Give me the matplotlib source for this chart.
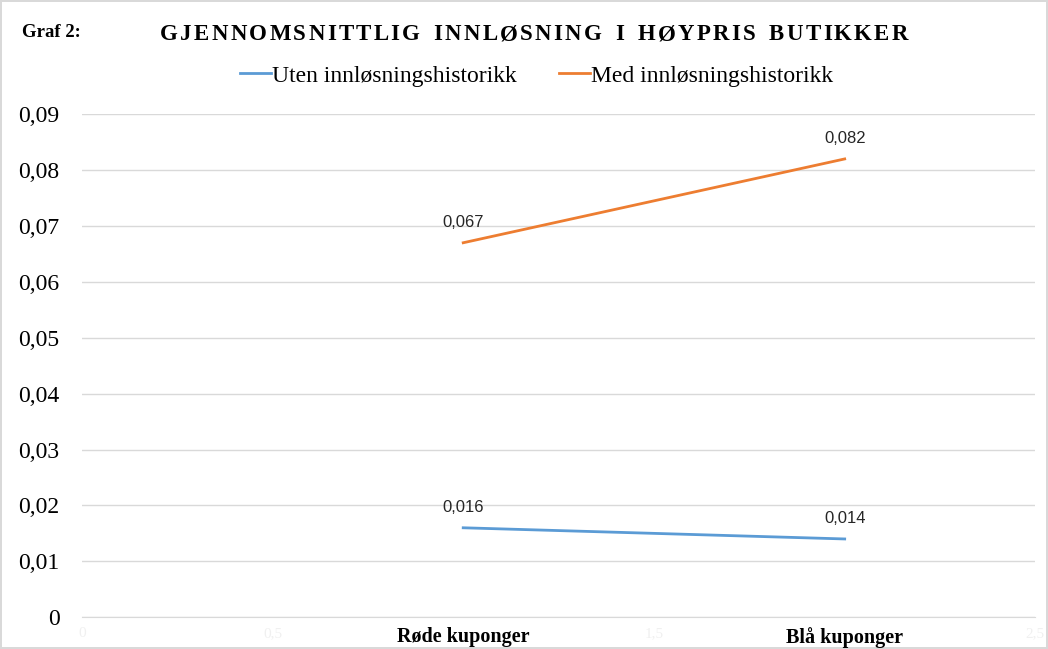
import matplotlib.pyplot as plt
from matplotlib.ticker import FuncFormatter

categories = ['Røde kuponger', 'Blå kuponger']
x_pos = [1, 2]
uten = [0.016, 0.014]
med = [0.067, 0.082]
faint_ticks = [0, 0.5, 1.5, 2.5]
faint_labels = ['0', '0,5', '1,5', '2,5']

blue = '#5B9BD5'
orange = '#ED7D31'
serif = 'Liberation Serif'
sans = 'Liberation Sans'

fig = plt.figure(figsize=(10.48, 6.49), dpi=100)
fig.patch.set_edgecolor('#D9D9D9')
fig.patch.set_linewidth(1.5)
ax = fig.add_axes([0.078, 0.049, 0.910, 0.775])

ax.plot(x_pos, uten, color=blue, lw=2, label='Uten innløsningshistorikk')
ax.plot(x_pos, med, color=orange, lw=2, label='Med innløsningshistorikk')

for xs, ys in [(x_pos, uten), (x_pos, med)]:
    for x, y in zip(xs, ys):
        ax.annotate(f'{y:.3f}'.replace('.', ','), (x, y), xytext=(0, 9),
                    textcoords='offset points', ha='center', va='bottom',
                    fontsize=12, family=sans, color='#262626')

ax.set_xlim(0, 2.5)
ax.set_ylim(0, 0.09)
ax.set_yticks([i / 100 for i in range(10)])
ax.yaxis.set_major_formatter(FuncFormatter(lambda v, p: '0' if v == 0 else f'{v:.2f}'.replace('.', ',')))
ax.tick_params(axis='y', length=0, pad=16, labelsize=17)
for lab in ax.get_yticklabels():
    lab.set_family(serif)

ax.set_xticks(x_pos + faint_ticks)
ax.set_xticklabels(categories + faint_labels)
ax.tick_params(axis='x', length=0, pad=7)
for i, lab in enumerate(ax.get_xticklabels()):
    lab.set_family(serif)
    if i < 2:
        lab.set_fontweight('bold')
        lab.set_fontsize(14.5)
        lab.set_color('black')
    else:
        lab.set_fontsize(11)
        lab.set_color('#F0F0F0')

ax.grid(axis='y', color='#D9D9D9', lw=1)
ax.set_axisbelow(True)
for s in ['left', 'right', 'top']:
    ax.spines[s].set_visible(False)
ax.spines['bottom'].set_color('#D9D9D9')

fig.legend(loc='center', bbox_to_anchor=(0.512, 0.883), ncol=2, frameon=False,
           prop={'family': serif, 'size': 17}, handlelength=1.3, handletextpad=0.05,
           columnspacing=1.8)

fig.text(0.021, 0.950, 'Graf 2:', family=serif, fontweight='bold', fontsize=13.5, va='center')

# spaced-out title, drawn letter by letter
title = 'GJENNOMSNITTLIG INNLØSNING I HØYPRIS BUTIKKER'
fig.canvas.draw()
r = fig.canvas.get_renderer()
widths = []
for ch in title:
    t = fig.text(0, 0, ch if ch != ' ' else 'I', family=serif, fontweight='bold', fontsize=16.5)
    w = t.get_window_extent(r).width
    t.remove()
    widths.append(w * (1.0 if ch == ' ' else 1))
spacing = (748 - sum(widths)) / (len(title) - 1)
xpix = 160
for ch, w in zip(title, widths):
    if ch != ' ':
        fig.text(xpix / 1048, 1 - 35 / 649, ch, family=serif, fontweight='bold', fontsize=16.5,
                 va='center', ha='left')
    xpix += w + spacing

fig.savefig('out.png', dpi=100, edgecolor=fig.get_edgecolor())
